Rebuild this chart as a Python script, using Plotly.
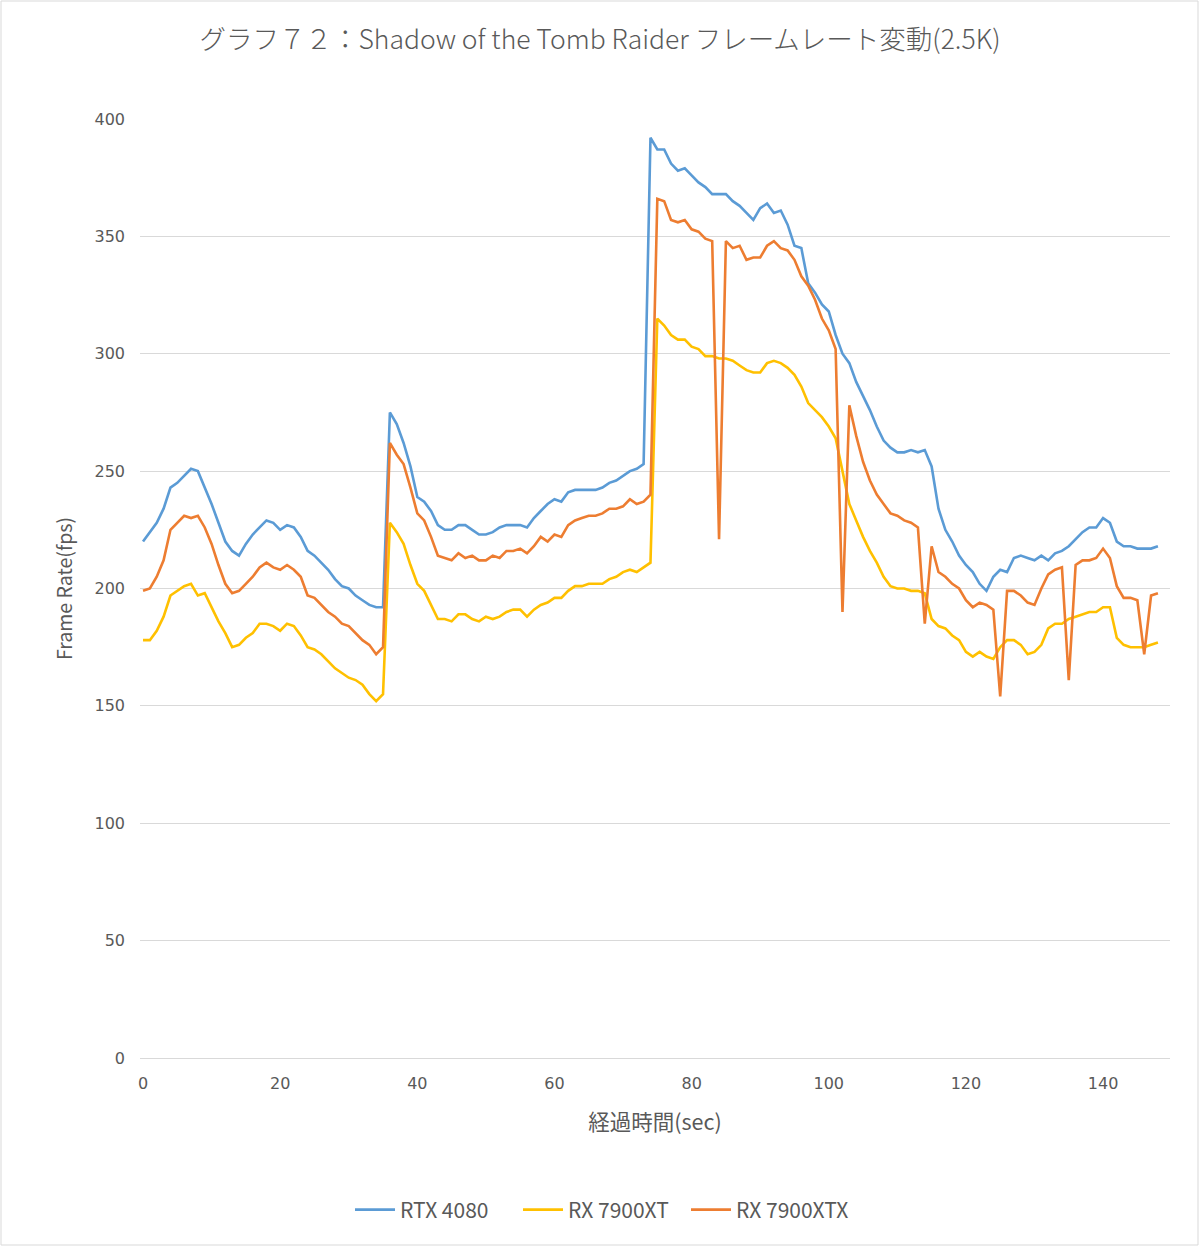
import plotly.graph_objects as go

seconds = list(range(0, 149))

rtx_4080 = [
    220, 224, 228, 234, 243, 245, 248, 251, 250, 243,
    236, 228, 220, 216, 214, 219, 223, 226, 229, 228,
    225, 227, 226, 222, 216, 214, 211, 208, 204, 201,
    200, 197, 195, 193, 192, 192, 275, 270, 262, 252,
    239, 237, 233, 227, 225, 225, 227, 227, 225, 223,
    223, 224, 226, 227, 227, 227, 226, 230, 233, 236,
    238, 237, 241, 242, 242, 242, 242, 243, 245, 246,
    248, 250, 251, 253, 392, 387, 387, 381, 378, 379,
    376, 373, 371, 368, 368, 368, 365, 363, 360, 357,
    362, 364, 360, 361, 355, 346, 345, 330, 326, 321,
    318, 308, 300, 296, 288, 282, 276, 269, 263, 260,
    258, 258, 259, 258, 259, 252, 234, 225, 220, 214,
    210, 207, 202, 199, 205, 208, 207, 213, 214, 213,
    212, 214, 212, 215, 216, 218, 221, 224, 226, 226,
    230, 228, 220, 218, 218, 217, 217, 217, 218,
]

rx_7900xt = [
    178, 178, 182, 188, 197, 199, 201, 202, 197, 198,
    192, 186, 181, 175, 176, 179, 181, 185, 185, 184,
    182, 185, 184, 180, 175, 174, 172, 169, 166, 164,
    162, 161, 159, 155, 152, 155, 228, 224, 219, 210,
    202, 199, 193, 187, 187, 186, 189, 189, 187, 186,
    188, 187, 188, 190, 191, 191, 188, 191, 193, 194,
    196, 196, 199, 201, 201, 202, 202, 202, 204, 205,
    207, 208, 207, 209, 211, 315, 312, 308, 306, 306,
    303, 302, 299, 299, 298, 298, 297, 295, 293, 292,
    292, 296, 297, 296, 294, 291, 286, 279, 276, 273,
    269, 264, 250, 236, 229, 222, 216, 211, 205, 201,
    200, 200, 199, 199, 198, 187, 184, 183, 180, 178,
    173, 171, 173, 171, 170, 175, 178, 178, 176, 172,
    173, 176, 183, 185, 185, 187, 188, 189, 190, 190,
    192, 192, 179, 176, 175, 175, 175, 176, 177,
]

rx_7900xtx = [
    199, 200, 205, 212, 225, 228, 231, 230, 231, 226,
    219, 210, 202, 198, 199, 202, 205, 209, 211, 209,
    208, 210, 208, 205, 197, 196, 193, 190, 188, 185,
    184, 181, 178, 176, 172, 175, 262, 257, 253, 243,
    232, 229, 222, 214, 213, 212, 215, 213, 214, 212,
    212, 214, 213, 216, 216, 217, 215, 218, 222, 220,
    223, 222, 227, 229, 230, 231, 231, 232, 234, 234,
    235, 238, 236, 237, 240, 366, 365, 357, 356, 357,
    353, 352, 349, 348, 221, 348, 345, 346, 340, 341,
    341, 346, 348, 345, 344, 340, 333, 329, 323, 315,
    310, 302, 190, 278, 265, 254, 246, 240, 236, 232,
    231, 229, 228, 226, 185, 218, 207, 205, 202, 200,
    195, 192, 194, 193, 191, 154, 199, 199, 197, 194,
    193, 200, 206, 208, 209, 161, 210, 212, 212, 213,
    217, 213, 201, 196, 196, 195, 172, 197, 198,
]

series_names = ["RTX 4080", "RX 7900XT", "RX 7900XTX"]
series_colors = ["#5B9BD5", "#FFC000", "#ED7D31"]
series_values = [rtx_4080, rx_7900xt, rx_7900xtx]

x_ticks = [0, 20, 40, 60, 80, 100, 120, 140]
y_ticks = [0, 50, 100, 150, 200, 250, 300, 350, 400]

fig = go.Figure()
for name, color, vals in zip(series_names, series_colors, series_values):
    fig.add_trace(go.Scatter(
        x=seconds, y=vals, name=name, mode="lines",
        line=dict(color=color, width=2.6),
    ))

W, H = 1200, 1247
L, R, T, B = 140, 30, 119, 189
pw, ph = W - L - R, H - T - B

fig.update_layout(
    width=W, height=H,
    margin=dict(l=L, r=R, t=T, b=B),
    paper_bgcolor="white", plot_bgcolor="white",
    font=dict(family="Noto Sans CJK JP, Noto Sans, sans-serif", color="#595959"),
    title=dict(
        text="グラフ７２：Shadow of the Tomb Raider フレームレート変動(2.5K)",
        x=0.5, xanchor="center", y=1 - 40 / H, yanchor="middle",
        font=dict(size=26.5, color="#595959", weight=300),
    ),
    showlegend=True,
    legend=dict(
        orientation="h", x=(350 - L) / pw, xanchor="left",
        y=-(1210 - (H - B)) / ph, yanchor="middle",
        font=dict(size=21, color="#595959"),
        itemwidth=40, traceorder="normal",
        entrywidth=113, entrywidthmode="pixels",
    ),
    xaxis=dict(
        range=[-0.44, 149.76], tickvals=x_ticks, showgrid=False,
        zeroline=False, showline=False, ticks="",
        tickfont=dict(family="DejaVu Sans", size=16, color="#595959"),
        ticklabelstandoff=14,
        title=dict(text="経過時間(sec)", font=dict(size=21.5, color="#595959"), standoff=22),
    ),
    yaxis=dict(
        range=[0, 400], tickvals=y_ticks, showgrid=True, gridcolor="#D9D9D9",
        gridwidth=1, zeroline=True, zerolinecolor="#D9D9D9", zerolinewidth=1,
        showline=False, ticks="",
        tickfont=dict(family="DejaVu Sans", size=16, color="#595959"),
        ticklabelstandoff=14,
        title=dict(text="Frame Rate(fps)", font=dict(size=19.5, color="#595959"), standoff=16),
    ),
)

fig.add_shape(
    type="rect", xref="paper", yref="paper",
    x0=-(L - 1) / pw, x1=1 + (R - 2) / pw,
    y0=-(B - 2) / ph, y1=1 + (T - 1) / ph,
    line=dict(color="#D9D9D9", width=1), fillcolor="rgba(0,0,0,0)", layer="below",
)

fig.write_html(
    "out.html",
    config={"displayModeBar": False},
    post_script="document.body.style.margin='0';",
)
